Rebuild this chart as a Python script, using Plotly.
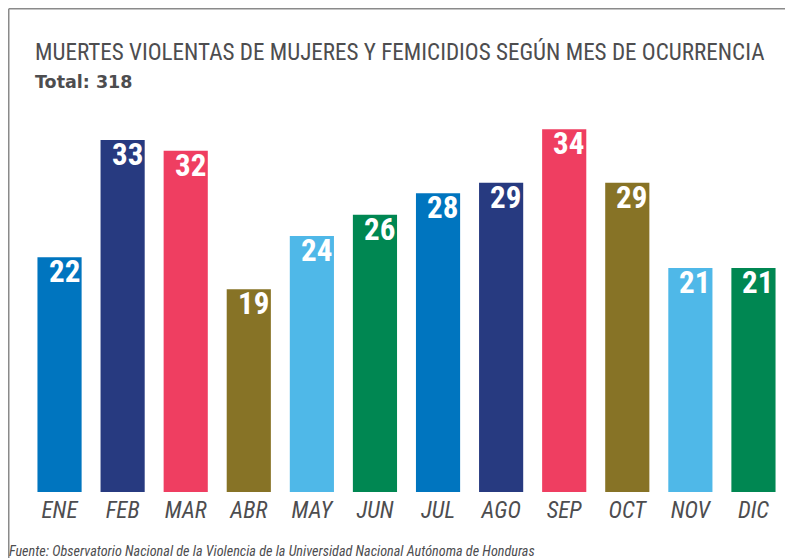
import plotly.graph_objects as go

months = ["ENE", "FEB", "MAR", "ABR", "MAY", "JUN", "JUL", "AGO", "SEP", "OCT", "NOV", "DIC"]
values = [22, 33, 32, 19, 24, 26, 28, 29, 34, 29, 21, 21]
colors = ["#0075BF", "#273A80", "#EF3E61", "#877326", "#4FB8E8", "#008752",
          "#0075BF", "#273A80", "#EF3E61", "#877326", "#4FB8E8", "#008752"]
title = "MUERTES VIOLENTAS DE MUJERES Y FEMICIDIOS SEGÚN MES DE OCURRENCIA"
subtitle = "Total: 318"
source = "Fuente: Observatorio Nacional de la Violencia de la Universidad Nacional Autónoma de Honduras"

# page has an 8px body margin; figure coordinates = page coordinates - 8
OFF = 8
W, H = 793 - OFF, 558 - OFF
ml, mr, mt, mb = 20, 8, 100, 66
pw, ph = W - ml - mr, H - mt - mb
ymax = 36

def px(x_page):
    return (x_page - OFF - ml) / pw

def py(y_page):
    return (H - mb - (y_page - OFF)) / ph

cond = "Roboto Condensed, DejaVu Sans Condensed, sans-serif"
grey = "#4d4d4f"

fig = go.Figure()
fig.add_trace(go.Bar(x=months, y=values, marker_color=colors, marker_line_width=0,
                     hoverinfo="x+y"))

annotations = []
for m, v in zip(months, values):
    annotations.append(dict(x=m, y=v, xref="x", yref="y", text=f"<b>{v}</b>",
                            showarrow=False, yanchor="top", xanchor="right",
                            xshift=22, yshift=6,
                            font=dict(family=cond, size=31, color="white")))
annotations.append(dict(x=px(36), y=py(52), xref="paper", yref="paper", text=title,
                        showarrow=False, xanchor="left", yanchor="middle", xshift=-3,
                        font=dict(family=cond, size=23.1, color=grey)))
annotations.append(dict(x=px(36), y=py(82), xref="paper", yref="paper", text=f"<b>{subtitle}</b>",
                        showarrow=False, xanchor="left", yanchor="middle", xshift=-3,
                        font=dict(family="DejaVu Sans, sans-serif", size=17.5, color=grey)))
annotations.append(dict(x=px(10), y=py(551), xref="paper", yref="paper", text=f"<i>{source}</i>",
                        showarrow=False, xanchor="left", yanchor="middle", xshift=-3,
                        font=dict(family=cond, size=14.2, color=grey)))

line_col = "#8a8a8a"
shapes = [
    dict(type="line", xref="paper", yref="paper", x0=px(8.75), x1=px(792), y0=py(8.75), y1=py(8.75),
         line=dict(color=line_col, width=1.5)),
    dict(type="line", xref="paper", yref="paper", x0=px(8.75), x1=px(8.75), y0=py(8.75), y1=py(560),
         line=dict(color=line_col, width=1.5)),
]

fig.update_layout(
    width=W, height=H,
    margin=dict(l=ml, r=mr, t=mt, b=mb),
    paper_bgcolor="white", plot_bgcolor="white",
    bargap=0.3,
    showlegend=False,
    annotations=annotations,
    shapes=shapes,
    xaxis=dict(showgrid=False, showline=False, zeroline=False, ticks="",
               tickfont=dict(family=cond, size=23, color=grey, style="italic"),
               ticklabelstandoff=2),
    yaxis=dict(range=[0, ymax], visible=False, showgrid=False, zeroline=False),
)

fig.write_html("out.html")
